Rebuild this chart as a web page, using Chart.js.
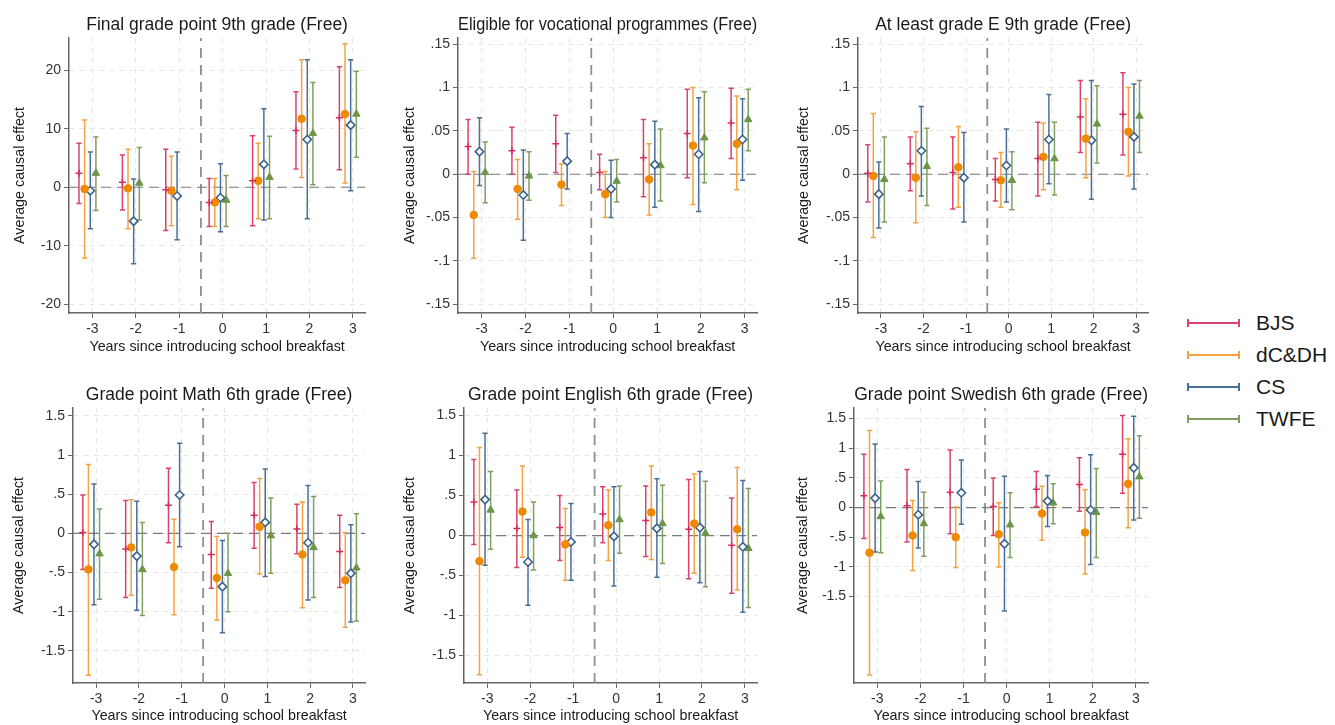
<!DOCTYPE html>
<html>
<head>
<meta charset="utf-8">
<script src="https://cdn.jsdelivr.net/npm/chart.js@4.4.0/dist/chart.umd.min.js"></script>
<style>
  body { margin: 0; background: #fff; width: 1335px; height: 725px; overflow: hidden; position: relative;
         font-family: "Liberation Sans", Arial, sans-serif; }
  .panel { position: absolute; }
  #legend { position: absolute; left: 1187px; top: 307px; }
  .item { position: relative; height: 32px; width: 140px; }
  .item .ln { position: absolute; left: 0; top: 15px; width: 53px; height: 2px; }
  .item .ln::before, .item .ln::after { content: ""; position: absolute; top: -3px; width: 2px; height: 8px; background: inherit; }
  .item .ln::before { left: 0; }
  .item .ln::after { right: 0; }
  .item span { position: absolute; left: 69px; top: 5px; font-size: 21px; line-height: 22px; color: #1a1a1a; }
</style>
</head>
<body>
<div id="legend"></div>
<script>
const years = [-3, -2, -1, 0, 1, 2, 3];
const methods = ["BJS", "dC&DH", "CS", "TWFE"];
const xTitle = "Years since introducing school breakfast";
const yTitle = "Average causal effect";

// rows: BJS, dC&DH, CS, TWFE ; columns: years -3..3 (TWFE has no estimate at -1)
const gp9Est = [
  [2.4, 0.85, -0.45, -2.6, 1.1, 9.7, 11.85],
  [-0.3, -0.2, -0.6, -2.6, 1.1, 11.7, 12.5],
  [-0.6, -5.8, -1.5, -1.8, 3.9, 8.15, 10.6],
  [2.4, 0.7, null, -2.2, 1.7, 9.2, 12.5]
];
const gp9Lo = [
  [-2.8, -3.9, -7.4, -6.7, -6.6, 3.1, 3.0],
  [-12.1, -7.1, -6.6, -6.7, -5.4, 1.65, 0.7],
  [-7.1, -13.1, -9.0, -7.6, -5.6, -5.4, -0.6],
  [-4.0, -5.6, null, -6.7, -5.4, 0.4, 5.1]
];
const gp9Hi = [
  [7.5, 5.5, 6.5, 1.5, 8.8, 16.3, 20.6],
  [11.5, 6.5, 5.3, 1.5, 7.5, 21.8, 24.5],
  [6.0, 1.4, 6.0, 4.0, 13.4, 21.8, 21.8],
  [8.6, 6.8, null, 2.0, 8.7, 17.9, 19.8]
];
const gp9Ticks = [-20, -10, 0, 10, 20];

const vocEst = [
  [0.032, 0.027, 0.035, 0.002, 0.019, 0.047, 0.059],
  [-0.047, -0.017, -0.012, -0.023, -0.006, 0.033, 0.035],
  [0.026, -0.024, 0.015, -0.017, 0.011, 0.023, 0.040],
  [0.002, -0.002, null, -0.008, 0.010, 0.042, 0.063]
];
const vocLo = [
  [0.000, 0.000, 0.002, -0.018, -0.026, -0.004, 0.018],
  [-0.097, -0.052, -0.036, -0.050, -0.047, -0.035, -0.018],
  [-0.013, -0.076, -0.017, -0.050, -0.038, -0.043, -0.007],
  [-0.033, -0.030, null, -0.032, -0.031, -0.010, 0.027]
];
const vocHi = [
  [0.063, 0.054, 0.068, 0.023, 0.063, 0.098, 0.099],
  [0.003, 0.017, 0.012, 0.003, 0.035, 0.100, 0.090],
  [0.065, 0.028, 0.047, 0.016, 0.061, 0.088, 0.087],
  [0.037, 0.026, null, 0.017, 0.052, 0.095, 0.098]
];
const vocTicks = [-0.15, -0.1, -0.05, 0, 0.05, 0.1, 0.15];

const gradeEEst = [
  [0.001, 0.012, 0.002, -0.006, 0.018, 0.066, 0.069],
  [-0.002, -0.004, 0.008, -0.007, 0.020, 0.041, 0.049],
  [-0.023, 0.027, -0.004, 0.010, 0.040, 0.039, 0.043],
  [-0.006, 0.009, null, -0.007, 0.018, 0.058, 0.067]
];
const gradeELo = [
  [-0.032, -0.019, -0.040, -0.031, -0.025, 0.025, 0.022],
  [-0.073, -0.056, -0.038, -0.038, -0.018, -0.004, -0.002],
  [-0.062, -0.025, -0.055, -0.032, -0.011, -0.029, -0.017],
  [-0.055, -0.036, null, -0.041, -0.024, 0.013, 0.025]
];
const gradeEHi = [
  [0.034, 0.043, 0.043, 0.018, 0.060, 0.108, 0.117],
  [0.070, 0.049, 0.055, 0.025, 0.059, 0.087, 0.100],
  [0.014, 0.078, 0.048, 0.052, 0.092, 0.108, 0.104],
  [0.043, 0.053, null, 0.026, 0.060, 0.102, 0.108]
];
const gradeETicks = [-0.15, -0.1, -0.05, 0, 0.05, 0.1, 0.15];

const mathEst = [
  [0.01, -0.20, 0.36, -0.27, 0.23, 0.055, -0.23],
  [-0.46, -0.18, -0.43, -0.57, 0.085, -0.27, -0.60],
  [-0.14, -0.29, 0.49, -0.68, 0.14, -0.12, -0.51],
  [-0.26, -0.46, null, -0.51, -0.03, -0.18, -0.44]
];
const mathLo = [
  [-0.46, -0.82, -0.12, -0.70, -0.19, -0.26, -0.69],
  [-1.81, -0.79, -1.04, -1.11, -0.52, -0.95, -1.20],
  [-0.91, -0.98, -0.17, -1.27, -0.55, -0.85, -1.13],
  [-0.84, -1.05, null, -1.00, -0.51, -0.82, -1.12]
];
const mathHi = [
  [0.49, 0.42, 0.83, 0.15, 0.65, 0.37, 0.23],
  [0.88, 0.43, 0.18, -0.04, 0.70, 0.40, 0.01],
  [0.63, 0.41, 1.15, -0.09, 0.82, 0.61, 0.11],
  [0.31, 0.14, null, 0.00, 0.45, 0.47, 0.25]
];
const mathTicks = [-1.5, -1, -0.5, 0, 0.5, 1, 1.5];

const engEst = [
  [0.42, 0.09, 0.10, 0.27, 0.19, 0.08, -0.12],
  [-0.32, 0.30, -0.11, 0.13, 0.29, 0.15, 0.08],
  [0.45, -0.33, -0.08, -0.01, 0.09, 0.10, -0.14],
  [0.32, 0.00, null, 0.20, 0.15, 0.03, -0.16]
];
const engLo = [
  [-0.11, -0.40, -0.31, -0.09, -0.26, -0.54, -0.72],
  [-1.74, -0.27, -0.56, -0.31, -0.30, -0.47, -0.68],
  [-0.37, -0.87, -0.56, -0.63, -0.52, -0.59, -0.96],
  [-0.17, -0.43, null, -0.22, -0.35, -0.64, -0.90]
];
const engHi = [
  [0.95, 0.57, 0.50, 0.61, 0.62, 0.70, 0.47],
  [1.10, 0.87, 0.34, 0.57, 0.87, 0.77, 0.85],
  [1.28, 0.20, 0.40, 0.61, 0.71, 0.80, 0.69],
  [0.80, 0.42, null, 0.62, 0.63, 0.68, 0.59]
];
const engTicks = [-1.5, -1, -0.5, 0, 0.5, 1, 1.5];

const sweEst = [
  [0.20, 0.03, 0.26, 0.02, 0.31, 0.39, 0.90],
  [-0.76, -0.47, -0.50, -0.45, -0.10, -0.42, 0.40],
  [0.16, -0.12, 0.25, -0.61, 0.11, -0.04, 0.67],
  [-0.15, -0.27, null, -0.29, 0.08, -0.08, 0.52]
];
const sweLo = [
  [-0.52, -0.58, -0.44, -0.47, 0.02, -0.06, 0.24],
  [-2.82, -1.06, -1.01, -1.00, -0.55, -1.12, -0.34],
  [-0.75, -0.68, -0.28, -1.74, -0.32, -0.96, -0.21],
  [-0.76, -0.82, null, -0.84, -0.27, -0.84, -0.18]
];
const sweHi = [
  [0.90, 0.64, 0.97, 0.50, 0.61, 0.84, 1.55],
  [1.30, 0.12, 0.01, 0.08, 0.36, 0.30, 1.16],
  [1.07, 0.44, 0.80, 0.53, 0.54, 0.89, 1.54],
  [0.45, 0.26, null, 0.25, 0.40, 0.66, 1.21]
];
const sweTicks = [-1.5, -1, -0.5, 0, 0.5, 1, 1.5];

const treatLine = -0.5;   // dashed vertical line between -1 and 0
const zeroLine = 0;

// styling
const dodge = [-0.31, -0.18, -0.05, 0.08];
const barColors = ["#d8436d", "#f4a340", "#4a6f96", "#7f9f60"];
const markColors = ["#d62e5c", "#ee8a00", "#3a6290", "#6d9548"];
const X_MIN = -3.54, X_MAX = 3.285;

const panels = [
  { title: "Final grade point 9th grade (Free)", est: gp9Est, lo: gp9Lo, hi: gp9Hi, ticks: gp9Ticks,
    yMin: -21.5, yMax: 25.5, left: 69, right: 371, yW: 58, row: 0 },
  { title: "Eligible for vocational programmes (Free)", est: vocEst, lo: vocLo, hi: vocHi, ticks: vocTicks,
    yMin: -0.160, yMax: 0.157, left: 458, right: 763, yW: 57, row: 0 },
  { title: "At least grade E 9th grade (Free)", est: gradeEEst, lo: gradeELo, hi: gradeEHi, ticks: gradeETicks,
    yMin: -0.160, yMax: 0.157, left: 858, right: 1154, yW: 63, row: 0 },
  { title: "Grade point Math 6th grade (Free)", est: mathEst, lo: mathLo, hi: mathHi, ticks: mathTicks,
    yMin: -1.91, yMax: 1.60, left: 73, right: 371, yW: 63, row: 1 },
  { title: "Grade point English 6th grade (Free)", est: engEst, lo: engLo, hi: engHi, ticks: engTicks,
    yMin: -1.843, yMax: 1.595, left: 464, right: 763, yW: 63, row: 1 },
  { title: "Grade point Swedish 6th grade (Free)", est: sweEst, lo: sweLo, hi: sweHi, ticks: sweTicks,
    yMin: -2.955, yMax: 1.678, left: 854, right: 1154, yW: 60, row: 1 }
];
const rows = [
  { top: 0, height: 360, xH: 47, titlePad: 4 },
  { top: 370, height: 355, xH: 42, titlePad: 0 }
];

const fmt = v => (v === 0 ? "0" : String(v).replace(/^(-?)0\./, "$1."));
const fam = "'Liberation Sans', Arial, sans-serif";
const tickFont = { family: fam, size: 14 };
const axisFont = { family: fam, size: 14.3 };

function makePanel(p) {
  const r = rows[p.row];
  const cLeft = p.left - p.yW;
  const w = p.right - cLeft;
  const div = document.createElement("div");
  div.className = "panel";
  div.style.left = cLeft + "px";
  div.style.top = r.top + "px";
  const cv = document.createElement("canvas");
  cv.width = w; cv.height = r.height;
  cv.style.width = w + "px"; cv.style.height = r.height + "px";
  div.appendChild(cv);
  document.body.appendChild(div);

  const datasets = [];
  methods.forEach((m, s) => {
    const bars = [];
    const pts = [];
    years.forEach((yr, i) => {
      const x = yr + dodge[s];
      if (p.est[s][i] === null) return;
      bars.push({ x: x, y: p.lo[s][i] }, { x: x, y: p.hi[s][i] }, { x: x, y: null });
      pts.push({ x: x, y: p.est[s][i] });
    });
    datasets.push({
      label: m + " CI", data: bars, showLine: true, spanGaps: false, order: 1,
      borderColor: barColors[s], borderWidth: 1.5,
      pointStyle: "line", pointRadius: 2.6, pointBorderWidth: 1.5, pointBorderColor: barColors[s]
    });
    const mk = { label: m, data: pts, order: 0, showLine: false };
    if (s === 0) Object.assign(mk, { pointStyle: "cross", pointRadius: 3.5, pointBorderWidth: 1.5, pointBorderColor: markColors[0] });
    if (s === 1) Object.assign(mk, { pointStyle: "circle", pointRadius: 3.8, pointBorderWidth: 1, pointBorderColor: markColors[1], pointBackgroundColor: markColors[1] });
    if (s === 2) Object.assign(mk, { pointStyle: "rectRot", pointRadius: 4.2, pointBorderWidth: 1.6, pointBorderColor: markColors[2], pointBackgroundColor: "#ffffff" });
    if (s === 3) Object.assign(mk, { pointStyle: "triangle", pointRadius: 4.3, pointBorderWidth: 1, pointBorderColor: markColors[3], pointBackgroundColor: markColors[3] });
    datasets.push(mk);
  });
  datasets.push({
    label: "zero", data: [{ x: X_MIN, y: zeroLine }, { x: X_MAX, y: zeroLine }], showLine: true, order: 2,
    borderColor: "#7a7a7a", borderWidth: 1.1, borderDash: [10, 6], pointRadius: 0
  });
  datasets.push({
    label: "start", data: [{ x: treatLine, y: p.yMin }, { x: treatLine, y: p.yMax }], showLine: true, order: 2,
    borderColor: "#8e8e8e", borderWidth: 1.8, borderDash: [10, 7], pointRadius: 0
  });

  new Chart(cv, {
    type: "scatter",
    data: { datasets: datasets },
    options: {
      responsive: false, animation: false, events: [],
      layout: { padding: 0 },
      plugins: {
        legend: { display: false }, tooltip: { enabled: false },
        title: { display: true, fullSize: false, text: p.title, color: "#1a1a1a",
                 font: { family: fam, size: 17.5, weight: "normal" }, padding: { top: 14.5, bottom: 2.5 } }
      },
      scales: {
        x: {
          type: "linear", min: X_MIN, max: X_MAX,
          afterBuildTicks: s => { s.ticks = years.map(v => ({ value: v })); },
          afterFit: s => { s.height = r.xH; },
          ticks: { color: "#333", font: tickFont, padding: 3, callback: v => fmt(v) },
          grid: { color: "#e6e6e6", lineWidth: 1, tickColor: "#666", tickLength: 5, tickWidth: 1 },
          border: { color: "#666", width: 1.5, dash: [5, 5] },
          title: { display: true, text: xTitle, color: "#1a1a1a", font: axisFont, padding: { top: 0, bottom: r.titlePad } }
        },
        y: {
          type: "linear", min: p.yMin, max: p.yMax,
          afterBuildTicks: s => { s.ticks = p.ticks.map(v => ({ value: v })); },
          afterFit: s => { s.width = p.yW; },
          ticks: { color: "#333", font: tickFont, padding: 3, callback: v => fmt(v) },
          grid: { color: "#e6e6e6", lineWidth: 1, tickColor: "#666", tickLength: 5, tickWidth: 1 },
          border: { color: "#666", width: 1.5, dash: [5, 5] },
          title: { display: true, text: yTitle, color: "#1a1a1a", font: axisFont, padding: { top: 0, bottom: 0 } }
        }
      }
    }
  });
}

panels.forEach(makePanel);

const legend = document.getElementById("legend");
methods.forEach((m, s) => {
  const it = document.createElement("div");
  it.className = "item";
  const ln = document.createElement("div");
  ln.className = "ln";
  ln.style.background = barColors[s];
  const t = document.createElement("span");
  t.textContent = m;
  it.appendChild(ln); it.appendChild(t);
  legend.appendChild(it);
});
</script>
</body>
</html>
